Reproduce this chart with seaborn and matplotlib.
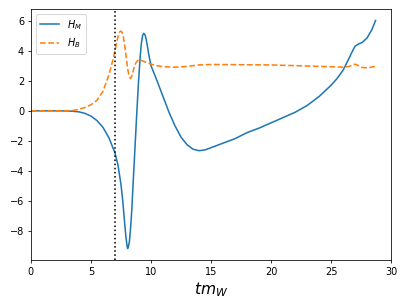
import matplotlib
matplotlib.use("Agg")
import matplotlib.pyplot as plt
import pandas as pd
import seaborn as sns

# %%
t_m = [0, 1, 2, 3, 3.5, 4, 4.5, 5, 5.5, 6, 6.5, 7, 7.25, 7.5, 7.65, 7.8,
       7.9, 8.0, 8.05, 8.1, 8.2, 8.3, 8.4, 8.5, 8.65, 8.8, 8.95, 9.1, 9.2,
       9.3, 9.4, 9.5, 9.6, 9.7, 9.8, 10, 10.5, 11, 11.5, 12, 12.5, 13, 13.5,
       14, 14.5, 15, 16, 17, 18, 19, 20, 21, 22, 23, 24, 25, 25.5, 26, 26.5,
       26.8, 27, 27.3, 27.6, 28, 28.4, 28.7]
h_m = [0, 0, 0, -0.01, -0.03, -0.07, -0.17, -0.35, -0.65, -1.1, -1.8, -2.8,
       -3.6, -4.9, -6.0, -7.4, -8.3, -8.95, -9.15, -9.1, -8.7, -7.8, -6.6,
       -5.0, -2.7, -0.4, 1.8, 3.6, 4.5, 5.0, 5.15, 5.05, 4.75, 4.3, 3.8, 3.0,
       2.0, 0.95, -0.1, -1.0, -1.75, -2.25, -2.55, -2.65, -2.6, -2.45, -2.15,
       -1.85, -1.45, -1.15, -0.8, -0.45, -0.1, 0.35, 0.95, 1.7, 2.15, 2.7,
       3.5, 4.0, 4.3, 4.45, 4.55, 4.85, 5.4, 6.0]

t_b = [0, 1, 2, 3, 3.5, 4, 4.5, 5, 5.5, 6, 6.5, 6.8, 7, 7.15, 7.3, 7.4, 7.5,
       7.6, 7.7, 7.8, 7.9, 8.0, 8.1, 8.2, 8.3, 8.4, 8.5, 8.6, 8.75, 8.9, 9.0,
       9.2, 9.5, 10, 10.5, 11, 12, 13, 14, 15, 20, 25, 26, 26.5, 26.8, 27,
       27.3, 27.6, 28, 28.7]
h_b = [0, 0, 0, 0, 0.02, 0.1, 0.22, 0.4, 0.7, 1.3, 2.4, 3.3, 4.0, 4.6, 5.05,
       5.25, 5.3, 5.2, 4.9, 4.4, 3.8, 3.15, 2.6, 2.25, 2.15, 2.3, 2.6, 2.9,
       3.2, 3.35, 3.38, 3.35, 3.25, 3.1, 3.0, 2.93, 2.9, 2.95, 3.05, 3.08,
       3.05, 2.93, 2.9, 2.95, 3.05, 3.1, 3.0, 2.88, 2.85, 2.95]

t_marker = 7

# %%
df_m = pd.DataFrame({"t": t_m, "h": h_m})
df_b = pd.DataFrame({"t": t_b, "h": h_b})

fig, ax = plt.subplots(figsize=(407 / 70, 305 / 70), dpi=70)
fig.subplots_adjust(left=0.076, right=0.961, top=0.970, bottom=0.148)

sns.lineplot(data=df_m, x="t", y="h", color="tab:blue", label="$H_M$",
             linewidth=1.6, ax=ax)
sns.lineplot(data=df_b, x="t", y="h", color="tab:orange", linestyle="--",
             label="$H_B$", linewidth=1.6, ax=ax)
ax.axvline(t_marker, color="k", linestyle=":", linewidth=1.6)

ax.set_xlim(0, 30)
ax.set_xlabel("$tm_W$", fontsize=16)
ax.set_ylabel("")
ax.legend(loc="upper left")

fig.savefig("out.png", dpi=70)
